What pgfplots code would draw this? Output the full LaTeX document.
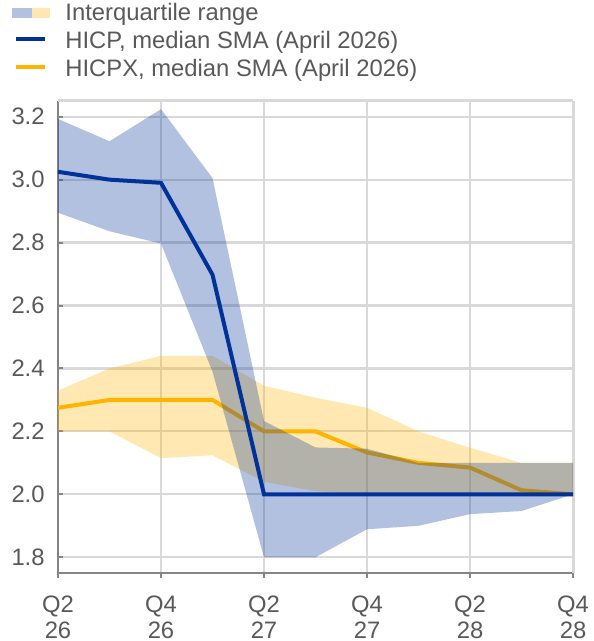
\documentclass[border=0pt]{standalone}
\usepackage{pgfplots}
\pgfplotsset{compat=1.18}
\usepackage{fontspec}
\setmainfont{Liberation Sans}
\definecolor{ecbblue}{HTML}{003299}
\definecolor{ecbyellow}{HTML}{FFB400}
\definecolor{gridgrey}{HTML}{D9D9D9}
\definecolor{axisgrey}{HTML}{858585}
\definecolor{textgrey}{HTML}{595959}
\begin{document}
\begin{tikzpicture}
\begin{axis}[
  scale only axis, width=257.5pt, height=236pt,
  at={(0,0)}, anchor=south west,
  xmin=0, xmax=10, ymin=1.75, ymax=3.25,
  axis lines*=left,
  axis line style={draw=axisgrey, line width=1pt},
  xtick={0,2,4,6,8,10},
  xticklabels={Q2\\26,Q4\\26,Q2\\27,Q4\\27,Q2\\28,Q4\\28},
  ytick={1.8,2.0,2.2,2.4,2.6,2.8,3.0,3.2},
  xtick align=outside, ytick align=inside,
  major tick length=2.5pt,
  tick style={draw=axisgrey, line width=1pt},
  grid=major,
  major grid style={draw=gridgrey, line width=1.1pt},
  extra y ticks={3.25}, extra y tick labels={},
  extra y tick style={major tick length=0pt, grid=major, major grid style={draw=gridgrey, line width=1.5pt}},
  extra x ticks={10}, extra x tick labels={},
  extra x tick style={major tick length=0pt, grid=major, major grid style={draw=gridgrey, line width=1.5pt}},
  ticklabel style={font=\fontsize{11.9}{13}\selectfont, text=textgrey},
  yticklabel style={inner sep=0pt, xshift=-6.5pt,
    /pgf/number format/.cd, fixed, fixed zerofill, precision=1, assume math mode=true},
  xticklabel style={align=center, inner sep=0pt, yshift=-8.5pt},
  legend style={at={(axis description cs:-0.0893,1.207)}, anchor=north west,
    draw=none, fill=none, inner sep=0pt, outer sep=0pt,
    row sep=3.15pt, column sep=0pt,
    font=\fontsize{11.9}{14}\selectfont, text=textgrey,
    nodes={inner sep=0pt, text height=8.5pt, text depth=2.5pt}},
  legend cell align=left,
]
% HICPX interquartile range
\addplot[fill=ecbyellow, fill opacity=0.3, draw=none, forget plot] coordinates {
 (0,2.33) (1,2.40) (2,2.44) (3,2.44) (4,2.345) (5,2.307) (6,2.275) (7,2.20) (8,2.148) (9,2.10) (10,2.10)
 (10,2.00) (9,2.00) (8,2.00) (7,2.00) (6,2.00) (5,2.01) (4,2.04) (3,2.124) (2,2.115) (1,2.20) (0,2.20)} -- cycle;
% HICPX median
\addplot[ecbyellow, line width=2pt, forget plot] coordinates {
 (0,2.275) (1,2.30) (2,2.30) (3,2.30) (4,2.20) (5,2.20) (6,2.133) (7,2.10) (8,2.085) (9,2.013) (10,2.00)};
% HICP interquartile range
\addplot[fill=ecbblue, fill opacity=0.3, draw=none, forget plot] coordinates {
 (0,3.193) (1,3.122) (2,3.224) (3,3.005) (4,2.233) (5,2.149) (6,2.145) (7,2.10) (8,2.10) (9,2.10) (10,2.10)
 (10,2.00) (9,1.947) (8,1.937) (7,1.90) (6,1.889) (5,1.80) (4,1.80) (3,2.39) (2,2.797) (1,2.836) (0,2.895)} -- cycle;
% HICP median
\addplot[ecbblue, line width=2pt, forget plot] coordinates {
 (0,3.025) (1,3.00) (2,2.99) (3,2.698) (4,2.00) (5,2.00) (6,2.00) (7,2.00) (8,2.00) (9,2.00) (10,2.00)};
\addlegendimage{legend image code/.code={
  \fill[draw=none, ecbblue, fill opacity=0.3] (0pt,-2pt) rectangle (10pt,3pt);
  \fill[draw=none, ecbyellow, fill opacity=0.3] (10pt,-2pt) rectangle (19pt,3pt);
  \path (26.5pt,0pt);}}
\addlegendentry{Interquartile range}
\addlegendimage{legend image code/.code={
  \draw[ecbblue, line width=2pt] (2pt,2pt) -- (16.5pt,2pt);
  \path (26.5pt,0pt);}}
\addlegendentry{HICP, median SMA (April 2026)}
\addlegendimage{legend image code/.code={
  \draw[ecbyellow, line width=2pt] (2pt,2pt) -- (16.5pt,2pt);
  \path (26.5pt,0pt);}}
\addlegendentry{HICPX, median SMA (April 2026)}
\end{axis}
\pgfresetboundingbox
\useasboundingbox (-29pt,-34pt) rectangle (267.5pt,286.5pt);
\end{tikzpicture}
\end{document}
